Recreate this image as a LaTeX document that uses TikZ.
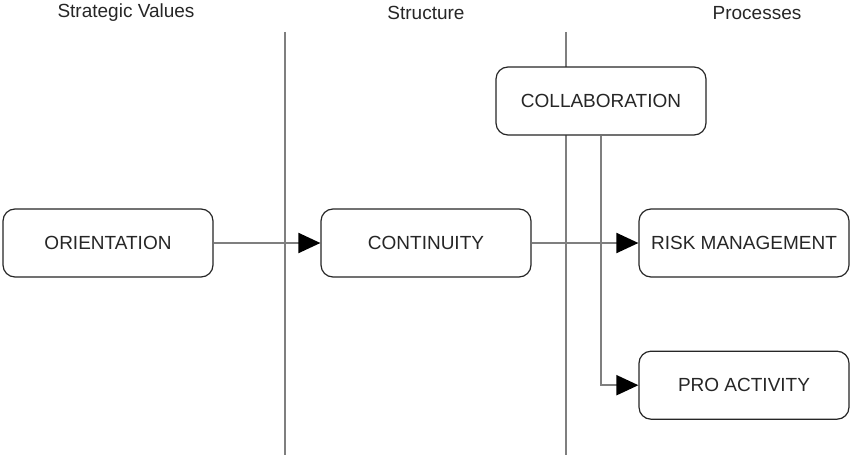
\documentclass[tikz,border=0pt]{standalone}
\usepackage{fontspec}
\setmainfont{Liberation Sans}
\usetikzlibrary{positioning, arrows.meta}
\definecolor{divider}{HTML}{7F7F7F}
\definecolor{boxline}{HTML}{262626}
\tikzset{
	x=1pt, y=-1pt, % one unit is one pixel of the layout, y runs down
	node distance=318pt, % distance between the centres of two boxes in a row
	stage/.style={draw=boxline, line width=1.2pt, rounded corners=12pt, fill=white,
		minimum width=210pt, minimum height=68pt, text=black!85,
		font=\fontsize{19}{22}\selectfont}, % the rounded boxes
	heading/.style={text=black!85, font=\fontsize{19}{22}\selectfont}, % column titles
	divide/.style={divider, line width=2pt}, % the vertical separators
	link/.style={divider, line width=2pt,
		-{Triangle[length=22pt, width=20pt, color=black, fill=black]}}, % arrows between boxes
}
\begin{document}
\begin{tikzpicture}
	\useasboundingbox (0,0) rectangle (858,460);
	% column titles
	\node[heading] (values) at (126,13) {Strategic Values};
	\node[heading] (structure) at (426,13) {Structure};
	\node[heading] (processes) at (757,13) {Processes};
	% separators
	\draw[divide] (285,32) -- (285,455);
	\draw[divide] (566,32) -- (566,455);
	% boxes
	\node[stage] (orient) at (108,243) {ORIENTATION};
	\node[stage, right of=orient] (contin) {CONTINUITY};
	\node[stage, right of=contin] (risk) {RISK MANAGEMENT};
	\node[stage, below=73pt of risk] (pro) {PRO ACTIVITY};
	\node[stage] (collab) at (601,101) {COLLABORATION};
	% arrows
	\draw[link] (orient) -- (contin);
	\draw[link] (contin) -- (risk);
	\draw[link] (collab) |- (pro);
\end{tikzpicture}
\end{document}
